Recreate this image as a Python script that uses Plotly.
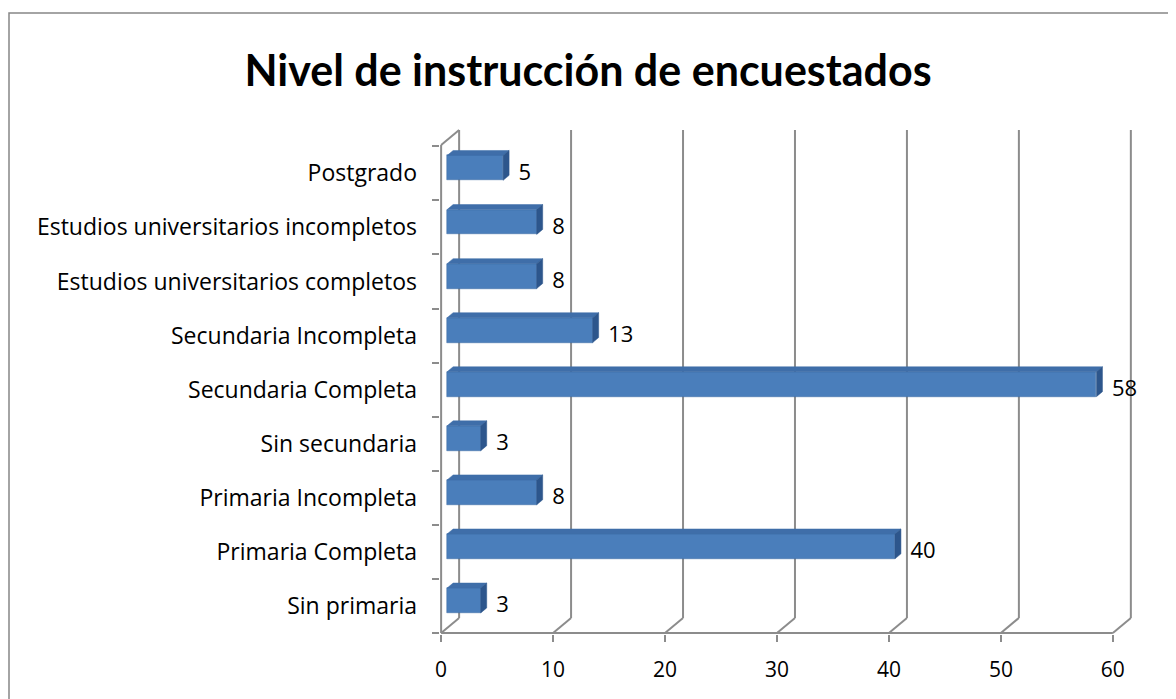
import plotly.graph_objects as go

# datos
categorias = ["Sin primaria", "Primaria Completa", "Primaria Incompleta", "Sin secundaria",
              "Secundaria Completa", "Secundaria Incompleta", "Estudios universitarios completos",
              "Estudios universitarios incompletos", "Postgrado"]
valores = [3, 40, 8, 3, 58, 13, 8, 8, 5]
ticks_x = [0, 10, 20, 30, 40, 50, 60]
titulo = "Nivel de instrucción de encuestados"

OFF = 8                                     # margen del body de la página
W, H = 1176 - OFF, 699 - OFF
L, R, T, B = 440 - OFF, 1133 - OFF, 129 - OFF, 634 - OFF   # área de trazado (px)
x0, x1 = -0.1, 61.8
y0, y1 = -0.52, 8.82
pxx = (R - L) / (x1 - x0)
pxy = (B - T) / (y1 - y0)

# profundidad 3D (pared del fondo) en unidades de datos
dx = 18 / pxx
dy = 15 / pxy
# profundidad de la barra
bdx = 6 / pxx
bdy = 5 / pxy
base = 6 / pxx
yoff = 0.1
bw = 0.46

grid = "#8c8c8c"
fnt = "Open Sans"

idx = list(range(len(categorias)))
yb = [i + yoff for i in idx]

fig = go.Figure()

# cara frontal
fig.add_trace(go.Bar(
    y=yb, x=valores, base=[base] * len(valores), orientation="h", width=bw,
    marker=dict(color="#4a7ebb", line=dict(color="#3d6aa3", width=0.5)),
    hoverinfo="skip", showlegend=False))

# caras superior y lateral
tx, ty, rx, ry = [], [], [], []
for v, y in zip(valores, yb):
    xa, xb_ = base, base + v
    top, bot = y + bw / 2, y - bw / 2
    tx += [xa, xb_, xb_ + bdx, xa + bdx, xa, None]
    ty += [top, top, top + bdy, top + bdy, top, None]
    rx += [xb_, xb_ + bdx, xb_ + bdx, xb_, xb_, None]
    ry += [bot, bot + bdy, top + bdy, top, bot, None]
fig.add_trace(go.Scatter(x=tx, y=ty, fill="toself", fillcolor="#3f6ea9", mode="lines",
                         line=dict(color="#3f6ea9", width=0.5), hoverinfo="skip", showlegend=False))
fig.add_trace(go.Scatter(x=rx, y=ry, fill="toself", fillcolor="#2d568c", mode="lines",
                         line=dict(color="#2d568c", width=0.5), hoverinfo="skip", showlegend=False))

# etiquetas de valor
fig.add_trace(go.Scatter(
    x=[base + v + bdx + 0.85 for v in valores], y=[i - 0.02 for i in idx],
    mode="text", text=[str(v) for v in valores], textposition="middle right",
    textfont=dict(family=fnt, size=22, color="black"), cliponaxis=False,
    hoverinfo="skip", showlegend=False))

# líneas de la pared del fondo y del suelo
shapes = []
ln = dict(color=grid, width=2)
for v in ticks_x:
    shapes.append(dict(type="line", xref="x", yref="y", x0=v + dx, x1=v + dx,
                       y0=-0.5 + dy, y1=y1 - 0.02, line=ln, layer="below"))
    shapes.append(dict(type="line", xref="x", yref="y", x0=v, x1=v + dx,
                       y0=-0.5, y1=-0.5 + dy, line=ln, layer="below"))
# eje frontal de categorías
shapes.append(dict(type="line", xref="x", yref="y", x0=0, x1=0, y0=-0.5, y1=y1 - 0.02 - dy,
                   line=ln, layer="below"))
shapes.append(dict(type="line", xref="x", yref="y", x0=0, x1=dx, y0=y1 - 0.02 - dy, y1=y1 - 0.02,
                   line=ln, layer="below"))
# eje frontal de valores
shapes.append(dict(type="line", xref="x", yref="y", x0=0, x1=ticks_x[-1], y0=-0.5, y1=-0.5,
                   line=ln, layer="below"))
# borde exterior del gráfico
shapes.append(dict(type="rect", xref="paper", yref="paper",
                   x0=(1 - L) / (R - L), x1=(W + 10 - L) / (R - L),
                   y0=(B - H - 10) / (B - T), y1=(B - 5) / (B - T),
                   line=dict(color="#868686", width=1.5), layer="below"))

fig.update_layout(
    width=W, height=H,
    margin=dict(l=L, r=W - R, t=T, b=H - B),
    paper_bgcolor="white", plot_bgcolor="white",
    title=dict(text=titulo, x=(588 - OFF) / W, xanchor="center", y=1 - (71 - OFF) / H,
               yanchor="middle",
               font=dict(family="Lato", size=43, color="black", weight="bold")),
    shapes=shapes,
    bargap=0,
    xaxis=dict(range=[x0, x1], tickvals=ticks_x, showgrid=False, zeroline=False, showline=False,
               ticks="outside", ticklen=7, tickwidth=2, tickcolor=grid,
               tickfont=dict(family=fnt, size=21, color="black"), ticklabelstandoff=10),
    yaxis=dict(range=[y0, y1], tickvals=idx, ticktext=categorias, showgrid=False, zeroline=False,
               showline=False, ticks="", tickfont=dict(family=fnt, size=23, color="black"),
               ticklabelstandoff=22,
               minor=dict(tickmode="array", tickvals=[i - 0.5 for i in range(len(categorias) + 1)],
                          ticks="outside", ticklen=7, tickwidth=2, tickcolor=grid, showgrid=False)),
)

fig.write_html("out.html")
